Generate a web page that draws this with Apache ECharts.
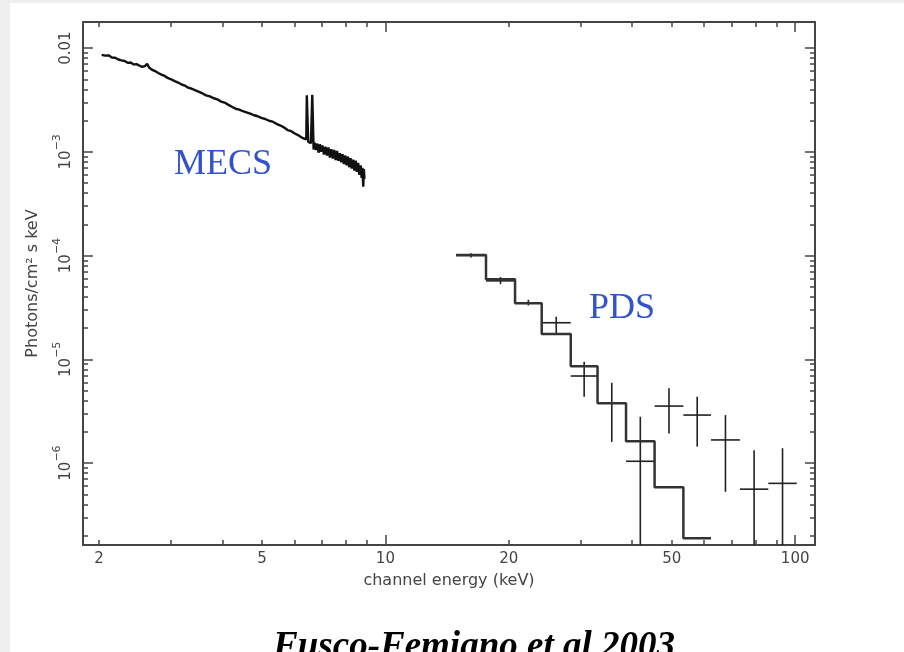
<!DOCTYPE html>
<html><head><meta charset="utf-8">
<script src="https://cdn.jsdelivr.net/npm/echarts@6/dist/echarts.min.js"></script>
<style>html,body{margin:0;padding:0;background:#efefef}#c{width:904px;height:652px}</style>
</head><body><div id="c"></div>
<script>
// ---- axis ticks / labels ----
const xMajorTicks = [10, 100];
const xMinorTicks = [2, 3, 4, 5, 6, 7, 8, 9, 20, 30, 40, 50, 60, 70, 80, 90];
const xTickLabels = [2, 5, 10, 20, 50, 100];
const yMajorTicks = [0.01, 1e-3, 1e-4, 1e-5, 1e-6];
const yMinorTicks = [2e-7,3e-7,4e-7,5e-7,6e-7,7e-7,8e-7,9e-7,
  2e-6,3e-6,4e-6,5e-6,6e-6,7e-6,8e-6,9e-6,
  2e-5,3e-5,4e-5,5e-5,6e-5,7e-5,8e-5,9e-5,
  2e-4,3e-4,4e-4,5e-4,6e-4,7e-4,8e-4,9e-4,
  2e-3,3e-3,4e-3,5e-3,6e-3,7e-3,8e-3,9e-3];
const yTickLabels = [0.01, 1e-3, 1e-4, 1e-5, 1e-6];

// ---- MECS spectrum (keV, photons/cm2 s keV) ----
const mecsEnergy = [2.03,2.07,2.11,2.15,2.19,2.23,2.27,2.31,2.35,2.39,2.43,2.47,2.51,2.55,2.59,2.62,2.65,2.69,2.74,2.79,
  2.84,2.89,2.94,3.00,3.06,3.12,3.18,3.24,3.30,3.37,3.44,3.51,3.58,3.65,3.73,3.81,3.89,3.97,4.05,4.13,
  4.22,4.31,4.40,4.49,4.58,4.68,4.78,4.88,4.98,5.09,5.20,5.31,5.42,5.53,5.65,5.77,5.89,6.01,6.12,6.22,
  6.30,6.37,6.41,6.43,6.46,6.48,6.53,6.58,6.63,6.66,6.68,6.72,6.77,6.82,6.87,6.92,6.97,7.02,7.08,7.14,
  7.20,7.26,7.32,7.38,7.44,7.50,7.56,7.62,7.68,7.74,7.80,7.86,7.92,7.98,8.04,8.10,8.16,8.22,8.28,8.34,
  8.40,8.46,8.52,8.58,8.64,8.70,8.75,8.79,8.83,8.86,8.89];
const mecsFlux = [8.6e-3,8.45e-3,8.5e-3,8.1e-3,8.05e-3,7.75e-3,7.6e-3,7.5e-3,7.2e-3,7.25e-3,6.95e-3,7.0e-3,6.75e-3,6.6e-3,6.7e-3,7.05e-3,6.5e-3,6.2e-3,6.0e-3,5.75e-3,
  5.55e-3,5.4e-3,5.15e-3,5.0e-3,4.8e-3,4.65e-3,4.45e-3,4.35e-3,4.15e-3,4.05e-3,3.9e-3,3.78e-3,3.65e-3,3.5e-3,3.42e-3,3.28e-3,3.2e-3,3.05e-3,2.98e-3,2.85e-3,
  2.72e-3,2.6e-3,2.55e-3,2.46e-3,2.4e-3,2.33e-3,2.25e-3,2.2e-3,2.12e-3,2.07e-3,1.99e-3,1.95e-3,1.86e-3,1.8e-3,1.72e-3,1.62e-3,1.58e-3,1.5e-3,1.45e-3,1.39e-3,
  1.35e-3,1.30e-3,1.32e-3,3.5e-3,3.5e-3,1.25e-3,1.23e-3,1.21e-3,3.55e-3,3.55e-3,1.05e-3,1.22e-3,1.04e-3,1.2e-3,0.98e-3,1.18e-3,1.0e-3,1.15e-3,0.94e-3,1.12e-3,
  0.92e-3,1.1e-3,0.88e-3,1.06e-3,0.86e-3,1.04e-3,0.83e-3,1.02e-3,0.82e-3,0.97e-3,0.79e-3,0.95e-3,0.76e-3,0.92e-3,0.74e-3,0.9e-3,0.71e-3,0.87e-3,0.69e-3,0.84e-3,
  0.66e-3,0.82e-3,0.64e-3,0.78e-3,0.6e-3,0.74e-3,0.56e-3,0.7e-3,0.46e-3,0.68e-3,0.55e-3];

// ---- PDS ----
const pdsEdges = [14.87,17.60,20.72,24.07,28.34,32.94,38.66,45.39,53.36,62.33,73.3,86.0,100.9];
const pdsModel = [1.01e-4,5.9e-5,3.46e-5,1.75e-5,8.55e-6,3.76e-6,1.62e-6,5.83e-7,1.88e-7];
const pdsValue = [1.0e-4,5.7e-5,3.5e-5,2.25e-5,6.9e-6,3.78e-6,1.04e-6,3.54e-6,2.9e-6,1.67e-6,5.6e-7,6.37e-7];
const pdsErrLow = [0.96e-4,5.3e-5,3.3e-5,1.79e-5,4.36e-6,1.6e-6,null,1.93e-6,1.44e-6,5.28e-7,null,null];
const pdsErrHigh = [1.05e-4,6.2e-5,3.75e-5,2.57e-5,9.46e-6,5.94e-6,2.79e-6,5.25e-6,4.36e-6,2.9e-6,1.33e-6,1.39e-6];

const X_MIN = 1.828, X_MAX = 111.8, Y_MIN = 1.622e-7, Y_MAX = 0.01782;
const AX = '#444';

function xAxisDef(pos, ticks, len, showLine, labels, name) {
  return {
    type: 'log', logBase: 10, min: X_MIN, max: X_MAX, position: pos,
    axisLine: {show: showLine, onZero: false, lineStyle: {color: AX, width: 2}},
    axisTick: {show: true, inside: true, length: len, customValues: ticks, lineStyle: {color: AX, width: 1.5}},
    axisLabel: labels ? {show: true, customValues: xTickLabels, margin: 7, color: '#444',
      fontFamily: 'DejaVu Sans', fontSize: 15, formatter: v => String(Math.round(v))} : {show: false},
    splitLine: {show: false}, minorTick: {show: false}, minorSplitLine: {show: false},
    name: name || '', nameLocation: 'middle', nameGap: 28,
    nameTextStyle: {color: '#444', fontFamily: 'DejaVu Sans', fontSize: 16}
  };
}
function yAxisDef(pos, ticks, len, showLine, labels, name) {
  return {
    type: 'log', logBase: 10, min: Y_MIN, max: Y_MAX, position: pos,
    axisLine: {show: showLine, onZero: false, lineStyle: {color: AX, width: 2}},
    axisTick: {show: true, inside: true, length: len, customValues: ticks, lineStyle: {color: AX, width: 1.5}},
    axisLabel: labels ? {show: true, customValues: yTickLabels, rotate: 90, margin: 9, color: '#444',
      fontFamily: 'DejaVu Sans', fontSize: 15,
      formatter: v => { const e = Math.round(Math.log10(v)); if (e === -2) return '{b|0.01}';
        return '{b|10}{s|\u2212' + (-e) + '}'; },
      rich: {
        b: {fontFamily: 'DejaVu Sans', fontSize: 15, color: '#444', lineHeight: 22, verticalAlign: 'bottom'},
        s: {fontFamily: 'DejaVu Sans', fontSize: 11, color: '#444', lineHeight: 14, verticalAlign: 'top'}
      }} : {show: false},
    splitLine: {show: false}, minorTick: {show: false}, minorSplitLine: {show: false},
    name: name || '', nameLocation: 'middle', nameGap: 42,
    nameTextStyle: {color: '#444', fontFamily: 'DejaVu Sans', fontSize: 16}
  };
}

// model step line points
const modelPts = [];
pdsModel.forEach((v, i) => { modelPts.push([pdsEdges[i], v]); });
modelPts.push([pdsEdges[pdsModel.length], pdsModel[pdsModel.length - 1]]);

const pdsCenters = pdsValue.map((v, i) => Math.sqrt(pdsEdges[i] * pdsEdges[i + 1]));

const chart = echarts.init(document.getElementById('c'), null, {renderer: 'canvas'});
chart.setOption({
  animation: false,
  backgroundColor: '#efefef',
  grid: {left: 83, top: 22, right: 89, bottom: 107, containLabel: false, outerBoundsMode: 'none'},
  xAxis: [
    xAxisDef('bottom', xMajorTicks, 10, true, true, 'channel energy (keV)'),
    xAxisDef('bottom', xMinorTicks, 5, false, false),
    xAxisDef('top', xMajorTicks, 10, true, false),
    xAxisDef('top', xMinorTicks, 5, false, false)
  ],
  yAxis: [
    yAxisDef('left', yMajorTicks, 10, true, true, 'Photons/cm\u00B2 s keV'),
    yAxisDef('left', yMinorTicks, 5, false, false),
    yAxisDef('right', yMajorTicks, 10, true, false),
    yAxisDef('right', yMinorTicks, 5, false, false)
  ],
  graphic: [
    {type: 'rect', z: -100, silent: true, shape: {x: 10, y: 3, width: 894, height: 649}, style: {fill: '#ffffff'}},
    {type: 'text', x: 174, y: 165, style: {text: 'MECS', font: '36px "Liberation Serif"', fill: '#3352cc', align: 'left', verticalAlign: 'middle'}},
    {type: 'text', x: 589, y: 309, style: {text: 'PDS', font: '36px "Liberation Serif"', fill: '#3352cc', align: 'left', verticalAlign: 'middle'}},
    {type: 'text', x: 474, y: 647, style: {text: 'Fusco-Femiano et al 2003', font: 'italic bold 37px "Liberation Serif"', fill: '#000', align: 'center', verticalAlign: 'middle'}}
  ],
  series: [
    {type: 'line', name: 'MECS', xAxisIndex: 0, yAxisIndex: 0, showSymbol: false, symbol: 'none',
      lineStyle: {color: '#111', width: 2.4}, data: mecsEnergy.map((e, i) => [e, mecsFlux[i]])},
    {type: 'line', name: 'PDS model', xAxisIndex: 0, yAxisIndex: 0, step: 'end', showSymbol: false, symbol: 'none',
      lineStyle: {color: '#333', width: 2.5}, data: modelPts},
    {type: 'custom', name: 'PDS data', xAxisIndex: 0, yAxisIndex: 0, clip: true,
      data: pdsValue.map((v, i) => [pdsCenters[i], v]),
      renderItem: (params, api) => {
        const i = params.dataIndex;
        const cs = params.coordSys;
        const a = api.coord([pdsEdges[i], pdsValue[i]]);
        const b = api.coord([pdsEdges[i + 1], pdsValue[i]]);
        const top = api.coord([pdsCenters[i], pdsErrHigh[i]]);
        const bot = pdsErrLow[i] == null ? [top[0], cs.y + cs.height] : api.coord([pdsCenters[i], pdsErrLow[i]]);
        const st = {stroke: '#222', lineWidth: 1.6};
        return {type: 'group', children: [
          {type: 'line', shape: {x1: a[0], y1: a[1], x2: b[0], y2: b[1]}, style: st},
          {type: 'line', shape: {x1: top[0], y1: top[1], x2: bot[0], y2: bot[1]}, style: st}
        ]};
      }}
  ]
});
</script></body></html>
